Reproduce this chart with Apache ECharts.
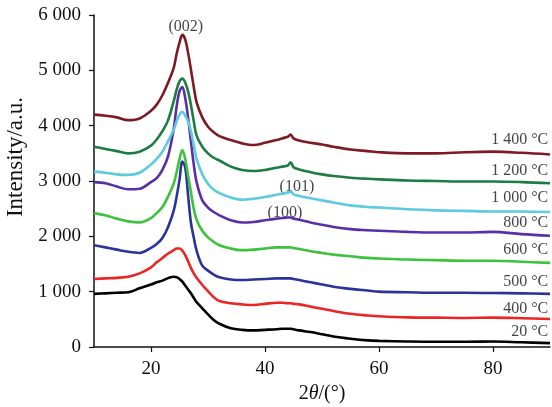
<!DOCTYPE html>
<html><head><meta charset="utf-8">
<script src="https://cdn.jsdelivr.net/npm/echarts@6/dist/echarts.min.js"></script>
<style>html,body{margin:0;padding:0;background:#fff}#c{width:552px;height:407px}</style>
</head><body><div id="c"></div>
<script>
const twoTheta = [10,12,14,16,18,20,21,22,23,24,24.5,25,25.5,26,26.5,27,27.5,28,29,30,31,32,34,36,38,40,42,43,44,44.5,45,46,48,50,52,55,58,60,65,70,75,80,85,90];

const s1400 = [4200,4180,4150,4100,4130,4270,4380,4550,4780,5050,5300,5500,5640,5560,5320,5020,4700,4420,4150,3980,3880,3810,3740,3680,3650,3690,3740,3770,3800,3840,3770,3730,3690,3660,3620,3570,3540,3520,3500,3500,3520,3530,3510,3480];
const s1200 = [3620,3580,3540,3500,3530,3640,3750,3900,4100,4450,4650,4800,4850,4780,4620,4380,4080,3820,3620,3500,3420,3370,3260,3200,3180,3200,3240,3260,3280,3340,3250,3210,3160,3120,3090,3060,3040,3030,3010,3000,2990,2990,2980,2960];
const s1000 = [3170,3150,3120,3110,3150,3300,3400,3530,3720,3930,4080,4200,4250,4180,4080,3900,3650,3400,3120,2950,2840,2780,2700,2660,2680,2710,2750,2770,2790,2810,2760,2730,2690,2650,2610,2560,2530,2520,2490,2470,2460,2450,2450,2440];
const s800  = [2980,2960,2900,2850,2860,2980,3050,3200,3450,3950,4350,4620,4700,4500,4150,3720,3300,2980,2650,2520,2440,2380,2290,2250,2260,2290,2320,2330,2340,2340,2320,2300,2250,2210,2170,2130,2110,2100,2080,2070,2070,2080,2040,2010];
const s600  = [2420,2380,2320,2270,2250,2330,2420,2530,2720,2960,3160,3400,3560,3400,3100,2800,2500,2300,2100,1980,1900,1840,1780,1750,1760,1780,1800,1800,1800,1800,1790,1770,1730,1700,1670,1640,1610,1600,1580,1570,1560,1560,1540,1520];
const s500  = [1840,1800,1760,1720,1700,1790,1860,1970,2170,2470,2720,3020,3350,3250,2750,2250,1980,1740,1470,1380,1310,1260,1220,1210,1220,1230,1240,1240,1240,1240,1230,1210,1170,1130,1090,1050,1020,1000,990,980,980,975,970,960];
const s400  = [1230,1240,1250,1270,1330,1440,1530,1610,1690,1750,1780,1780,1740,1660,1550,1430,1330,1250,1120,1010,900,830,790,770,760,780,800,800,790,790,780,770,730,690,650,600,570,555,535,530,525,530,520,505];
const s20   = [960,970,980,990,1060,1130,1170,1200,1245,1270,1260,1230,1180,1110,1040,970,890,810,700,590,490,420,340,310,300,310,320,330,330,330,320,300,270,230,190,150,120,110,100,95,95,100,85,70];

const seriesNames  = ['1 400 °C','1 200 °C','1 000 °C','800 °C','600 °C','500 °C','400 °C','20 °C'];
const seriesValues = [s1400,s1200,s1000,s800,s600,s500,s400,s20];
const seriesColors = ['#7d1a24','#1c7d43','#5ccadf','#5a2fa6','#3dc23d','#2b3399','#ec2424','#000000'];

const curveLabelX = 89.7;
const curveLabelY = [3741,3181,2693,2241,1753,1175,687,271];

const peakLabels = ['(002)','(101)','(100)'];
const peakLabelX = [26.1,45.6,43.5];
const peakLabelY = [5783,2892,2422];

const xTicks = [20,40,60,80];

function fmt(v){ if(v<1000) return String(v); const k=Math.floor(v/1000); return k+' '+String(v%1000).padStart(3,'0'); }

const serif = '"Liberation Serif","DejaVu Serif",serif';
const series = seriesValues.map((vals,i)=>({
  type:'line', name:seriesNames[i], data:twoTheta.map((x,j)=>[x,vals[j]]),
  showSymbol:false, smooth:0.35, lineStyle:{color:seriesColors[i], width:2.6}, itemStyle:{color:seriesColors[i]}, z:10-i
}));
series.push({
  type:'scatter', symbolSize:0, silent:true,
  data: seriesNames.map((n,i)=>[curveLabelX, curveLabelY[i], n]),
  label:{show:true, position:'left', distance:0, formatter:p=>p.value[2], color:'#111', fontFamily:serif, fontSize:16}
});
series.push({
  type:'scatter', symbolSize:0, silent:true,
  data: peakLabels.map((n,i)=>[peakLabelX[i], peakLabelY[i], n]),
  label:{show:true, position:'inside', formatter:p=>p.value[2], color:'#111', fontFamily:serif, fontSize:16}
});

const chart = echarts.init(document.getElementById('c'));
chart.setOption({
  animation:false,
  backgroundColor:'#fff',
  grid:{left:94, right:2, top:15, bottom:60, containLabel:false, outerBoundsMode:'none'},
  xAxis:{type:'value', min:10, max:90,
    name:'{a|2}{b|θ}{a|/(°)}', nameLocation:'middle', nameGap:37,
    nameTextStyle:{rich:{a:{fontFamily:serif,fontSize:20,color:'#111'},b:{fontFamily:serif,fontSize:20,fontStyle:'italic',color:'#111'}}},
    axisLine:{lineStyle:{color:'#111',width:1.5}},
    axisTick:{show:true, length:5, customValues:xTicks, lineStyle:{color:'#111',width:1.2}},
    axisLabel:{customValues:xTicks, margin:13, fontFamily:serif, fontSize:19, color:'#111'},
    splitLine:{show:false}},
  yAxis:{type:'value', min:0, max:6000, interval:1000,
    name:'Intensity/a.u.', nameLocation:'middle', nameGap:64, nameRotate:90,
    nameTextStyle:{fontFamily:serif, fontSize:23, color:'#111', padding:[0,0,0,48]},
    axisLine:{show:true, lineStyle:{color:'#111',width:1.5}},
    axisTick:{show:true, length:5, lineStyle:{color:'#111',width:1.2}},
    axisLabel:{formatter:fmt, margin:13, fontFamily:serif, fontSize:19, color:'#111'},
    splitLine:{show:false}},
  series:series
});
</script></body></html>
